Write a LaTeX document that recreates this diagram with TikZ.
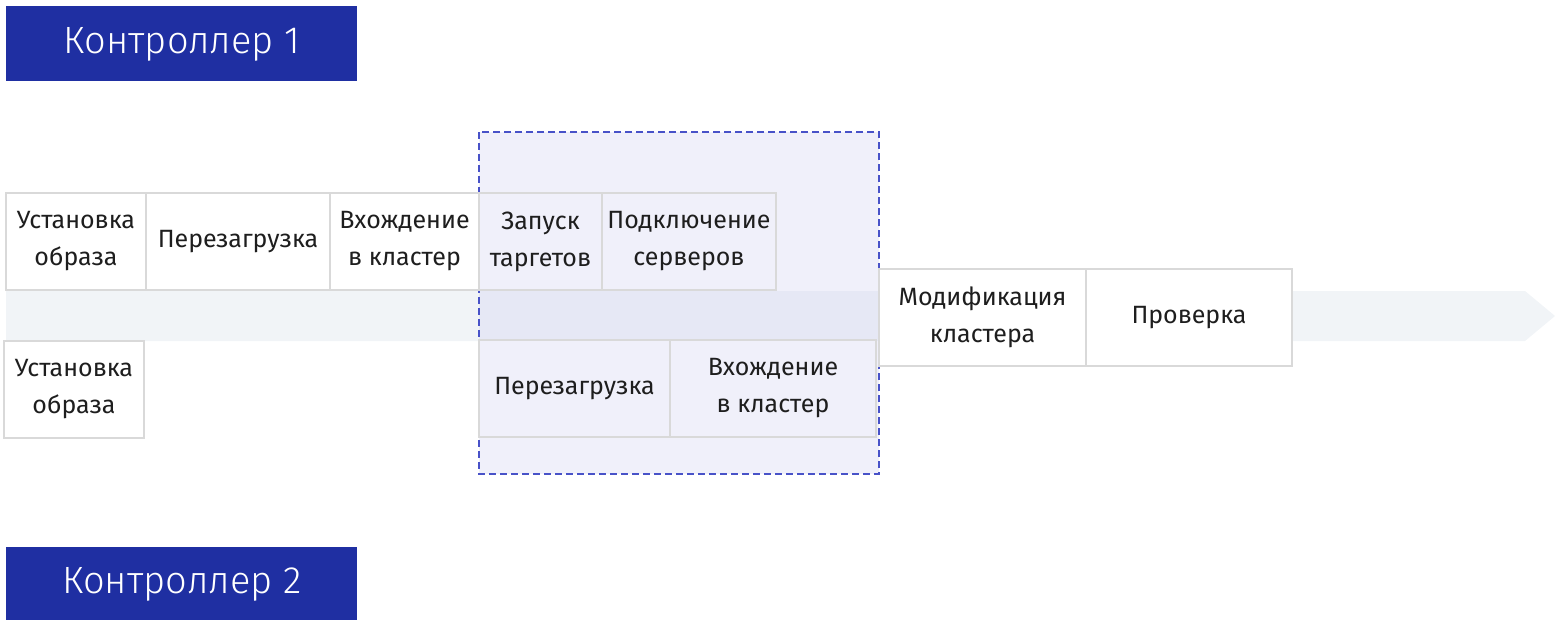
\documentclass[tikz,border=0pt]{standalone}
\usepackage{fontspec}
\setmainfont{Fira Sans}
\newfontfamily\lightfont{Fira Sans Light}
\usetikzlibrary{positioning}

\definecolor{ctrlblue}{RGB}{31,47,162}
\definecolor{dashblue}{RGB}{72,82,200}
\definecolor{lavender}{RGB}{240,240,250}
\definecolor{bandgray}{RGB}{241,244,247}
\definecolor{banddark}{RGB}{230,232,245}
\definecolor{boxgray}{RGB}{217,217,217}
\definecolor{inkgray}{RGB}{30,30,30}

\tikzset{
    stage/.style={draw=boxgray, line width=0.6pt, fill=white, anchor=north west,
        minimum height=48.5pt, inner sep=0pt, outer sep=0pt, align=center,
        text=inkgray, font=\fontsize{12.5}{18.5}\selectfont},
    substage/.style={stage, fill=none},
    ctrl/.style={fill=ctrlblue, anchor=north west, minimum width=175.5pt,
        inner sep=0pt, text=white, font=\lightfont\fontsize{19}{22}\selectfont}
}

\begin{document}
\begin{tikzpicture}[x=0.5pt, y=-0.5pt]
    \useasboundingbox (0,0) rectangle (1560,627);

    % timeline band
    \fill[bandgray] (6,291)--(1525,291)--(1555,316)--(1525,341)--(6,341)--cycle;

    % parallel part
    \fill[lavender] (479,132) rectangle (879,474);
    \fill[banddark] (479,291) rectangle (879,341);
    \draw[dashblue, line width=0.9pt, dash pattern=on 3.5pt off 2pt] (479,132) rectangle (879,474);

    % controllers
    \node[ctrl, minimum height=37.5pt] (ctrlA) at (6,6) {Контроллер 1};
    \node[ctrl, minimum height=36.5pt] (ctrlB) at (6,547) {Контроллер 2};

    % controller 1
    \node[stage, minimum width=70pt] (imgA) at (6,193) {Установка\\образа};
    \node[stage, minimum width=92pt, right=0pt of imgA] (rebootA) {Перезагрузка};
    \node[stage, minimum width=74.5pt, right=0pt of rebootA] (joinA) {Вхождение\\в кластер};
    \node[substage, minimum width=61.5pt, right=0pt of joinA] (targets) {Запуск\\таргетов};
    \node[substage, minimum width=87pt, right=0pt of targets] (servers) {Подключение\\серверов};

    % controller 2
    \node[stage, minimum width=70pt] (imgB) at (4,341) {Установка\\образа};
    \node[substage, minimum width=95.5pt] (rebootB) at (479,340) {Перезагрузка};
    \node[substage, minimum width=103pt, right=0pt of rebootB] (joinB) {Вхождение\\в кластер};

    % common part
    \node[stage, minimum width=103.5pt] (modify) at (879,269) {Модификация\\кластера};
    \node[stage, minimum width=103pt, right=0pt of modify] (check) {Проверка};

\end{tikzpicture}
\end{document}
